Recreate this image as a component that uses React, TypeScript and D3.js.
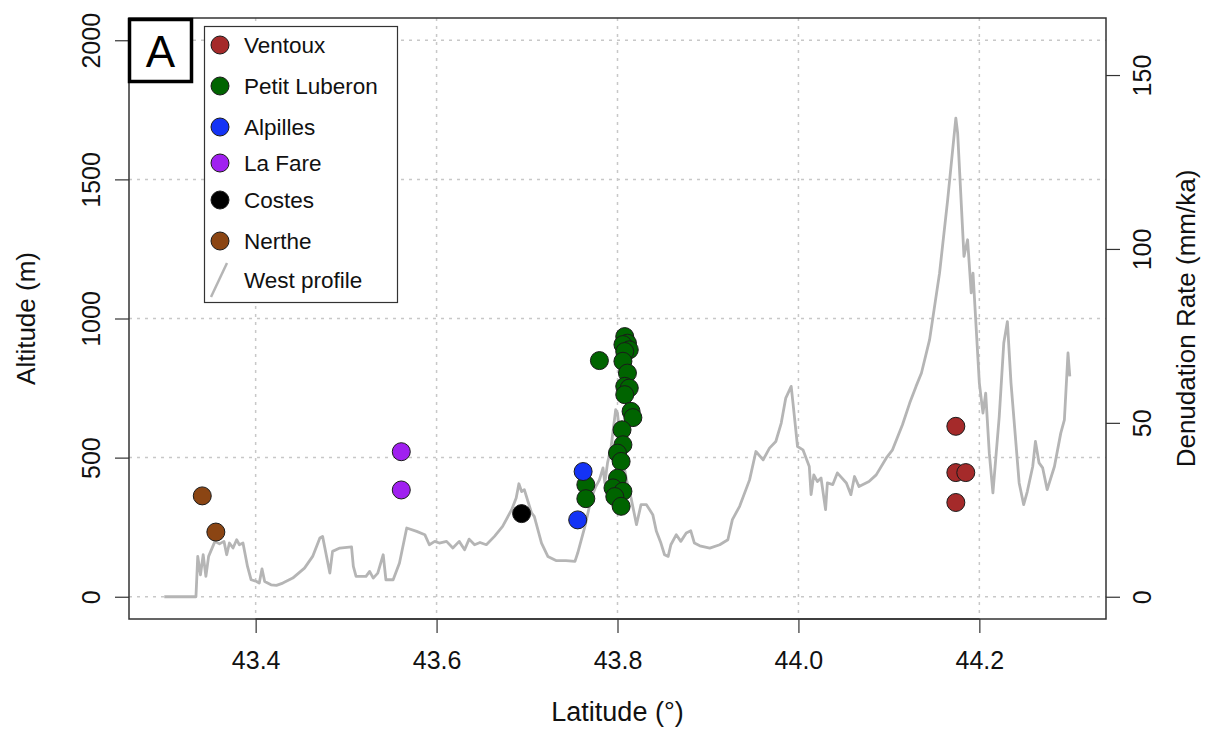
import React, { useRef, useEffect } from 'react';
import * as d3 from 'd3';

// West topographic profile (latitude in degrees, altitude in m)
const profileLat = [
  43.299, 43.334, 43.336, 43.339, 43.342, 43.345, 43.348, 43.355, 43.36, 43.365, 43.368, 43.371,
  43.375, 43.379, 43.382, 43.386, 43.391, 43.395, 43.401, 43.404, 43.407, 43.41, 43.417, 43.423,
  43.43, 43.441, 43.454, 43.463, 43.471, 43.474, 43.482, 43.485, 43.493, 43.506, 43.508, 43.511,
  43.522, 43.526, 43.53, 43.535, 43.541, 43.544, 43.552, 43.559, 43.567, 43.578, 43.587, 43.592,
  43.598, 43.603, 43.611, 43.618, 43.625, 43.631, 43.636, 43.642, 43.648, 43.655, 43.664, 43.673,
  43.683, 43.688, 43.691, 43.694, 43.697, 43.705, 43.708, 43.716, 43.723, 43.732, 43.743, 43.753,
  43.756, 43.764, 43.771, 43.776, 43.78, 43.784, 43.786, 43.789, 43.793, 43.798, 43.8, 43.804,
  43.81, 43.815, 43.821, 43.826, 43.832, 43.839, 43.843, 43.848, 43.852, 43.856, 43.859, 43.865,
  43.87, 43.876, 43.881, 43.885, 43.891, 43.902, 43.913, 43.922, 43.927, 43.935, 43.946, 43.953,
  43.961, 43.968, 43.975, 43.981, 43.986, 43.992, 43.994, 43.999, 44.005, 44.012, 44.014, 44.017,
  44.021, 44.025, 44.03, 44.032, 44.038, 44.043, 44.053, 44.058, 44.062, 44.067, 44.078, 44.086,
  44.097, 44.104, 44.115, 44.123, 44.13, 44.136, 44.145, 44.156, 44.165, 44.174, 44.176, 44.183,
  44.187, 44.191, 44.193, 44.2, 44.204, 44.207, 44.211, 44.215, 44.222, 44.227, 44.231, 44.235,
  44.244, 44.249, 44.253, 44.259, 44.262, 44.266, 44.27, 44.275, 44.283, 44.29, 44.294, 44.298,
  44.3,
];
const profileAlt = [
  0, 0, 145, 79, 151, 73, 145, 199, 190, 199, 151, 193,
  175, 205, 187, 193, 109, 61, 55, 49, 100, 55, 43, 41,
  49, 67, 103, 145, 211, 217, 85, 163, 175, 179, 109, 73,
  73, 91, 67, 85, 151, 61, 61, 121, 247, 235, 223, 187,
  199, 193, 199, 175, 199, 169, 207, 187, 195, 187, 217, 253,
  313, 355, 406, 378, 385, 301, 289, 193, 145, 130, 130, 127,
  157, 253, 355, 396, 420, 463, 409, 481, 540, 672, 660, 528,
  420, 355, 259, 331, 331, 295, 235, 193, 151, 145, 187, 223,
  199, 229, 237, 193, 183, 175, 187, 205, 277, 325, 420, 522,
  492, 534, 558, 624, 714, 756, 696, 540, 528, 468, 367, 438,
  414, 427, 313, 409, 403, 445, 409, 367, 432, 396, 414, 438,
  498, 528, 618, 696, 756, 804, 924, 1163, 1427, 1720, 1667, 1223,
  1283, 1092, 1163, 768, 660, 732, 516, 373, 648, 912, 989, 768,
  409, 331, 378, 468, 558, 481, 463, 385, 468, 588, 636, 876,
  792,
];

// Denudation rates (mm/ka) per site
const ventouxLat = [44.174, 44.174, 44.185, 44.174];
const ventouxRate = [49.0, 35.7, 35.7, 27.1];

const luberonLat = [
  43.808, 43.811, 43.806, 43.813, 43.808, 43.78, 43.806, 43.811, 43.808, 43.813, 43.808, 43.815,
  43.817, 43.805, 43.806, 43.8, 43.804, 43.765, 43.765, 43.8, 43.795, 43.806, 43.797, 43.804,
];
const luberonRate = [
  74.8, 72.9, 72.5, 71.0, 70.5, 67.9, 67.7, 64.3, 60.5, 60.0, 58.1, 53.3,
  51.5, 48.0, 43.7, 41.3, 38.9, 32.2, 28.2, 34.1, 31.3, 30.3, 28.8, 26.0,
];

const alpillesLat = [43.762, 43.756];
const alpillesRate = [36.0, 22.1];

const laFareLat = [43.561, 43.561];
const laFareRate = [41.7, 30.7];

const costesLat = [43.694];
const costesRate = [23.9];

const nertheLat = [43.341, 43.356];
const nertheRate = [29.0, 18.6];

const siteNames = ['Ventoux', 'Petit Luberon', 'Alpilles', 'La Fare', 'Costes', 'Nerthe'];
const siteColors = ['#a52a2a', '#006400', '#1433f5', '#a020f0', '#000000', '#8b4513'];
const siteLats = [ventouxLat, luberonLat, alpillesLat, laFareLat, costesLat, nertheLat];
const siteRates = [ventouxRate, luberonRate, alpillesRate, laFareRate, costesRate, nertheRate];

const latTicks = [43.4, 43.6, 43.8, 44.0, 44.2];
const altTicks = [0, 500, 1000, 1500, 2000];
const rateTicks = [0, 50, 100, 150];

const FONT = '"Liberation Sans", Arial, Helvetica, sans-serif';

const App = () => {
  const svgRef = useRef<SVGSVGElement | null>(null);

  useEffect(() => {
    const width = 1210;
    const height = 732;
    const left = 129;
    const right = 1106;
    const top = 18;
    const bottom = 619;

    const svg = d3.select(svgRef.current);
    svg.selectAll('*').remove();
    svg.attr('width', width).attr('height', height).style('font-family', FONT);

    const x = d3.scaleLinear().domain([43.26, 44.34]).range([left, right]);
    const yAlt = d3.scaleLinear().domain([-80, 2080]).range([bottom, top]);
    const yRate = d3.scaleLinear().domain([-6.4, 166.4]).range([bottom, top]);

    svg.append('rect').attr('width', width).attr('height', height).attr('fill', '#fff');

    // grid
    const grid = svg.append('g').attr('stroke', '#c8c8c8').attr('stroke-width', 1.5).attr('stroke-dasharray', '3,5');
    grid.selectAll('line.h')
      .data(altTicks)
      .join('line')
      .attr('x1', left)
      .attr('x2', right)
      .attr('y1', d => yAlt(d))
      .attr('y2', d => yAlt(d));
    grid.selectAll('line.v')
      .data(latTicks)
      .join('line')
      .attr('class', 'v')
      .attr('x1', d => x(d))
      .attr('x2', d => x(d))
      .attr('y1', top)
      .attr('y2', bottom);

    // profile
    const line = d3.line<number>()
      .x((_, i) => x(profileLat[i]))
      .y(d => yAlt(d));
    svg.append('path')
      .datum(profileAlt)
      .attr('d', line)
      .attr('fill', 'none')
      .attr('stroke', '#b5b5b5')
      .attr('stroke-width', 2.8)
      .attr('stroke-linejoin', 'round');

    // points
    siteNames.forEach((name, s) => {
      svg.append('g')
        .selectAll('circle')
        .data(siteRates[s])
        .join('circle')
        .attr('cx', (_, i) => x(siteLats[s][i]))
        .attr('cy', d => yRate(d))
        .attr('r', 9)
        .attr('fill', siteColors[s])
        .attr('stroke', '#1a1a1a')
        .attr('stroke-width', 1);
    });

    // frame
    svg.append('rect')
      .attr('x', left)
      .attr('y', top)
      .attr('width', right - left)
      .attr('height', bottom - top)
      .attr('fill', 'none')
      .attr('stroke', '#333')
      .attr('stroke-width', 1.5);

    // bottom axis
    const xAxis = svg.append('g').attr('transform', `translate(0,${bottom})`);
    xAxis.call(d3.axisBottom(x).tickValues(latTicks).tickSize(14).tickSizeOuter(0).tickPadding(18).tickFormat(d3.format('.1f')));
    xAxis.select('.domain').attr('stroke', '#333').attr('stroke-width', 1.5)
      .attr('d', `M${x(43.4)},0H${x(44.2)}`);
    xAxis.selectAll('.tick line').attr('stroke', '#333').attr('stroke-width', 1.2);
    xAxis.selectAll('text').attr('font-size', 25).attr('fill', '#111').attr('font-family', FONT);

    // left axis
    const yAxisL = svg.append('g').attr('transform', `translate(${left},0)`);
    yAxisL.call(d3.axisLeft(yAlt).tickValues(altTicks).tickSize(14).tickSizeOuter(0).tickFormat(d3.format('d')));
    yAxisL.select('.domain').remove();
    yAxisL.selectAll('.tick line').attr('stroke', '#333').attr('stroke-width', 1.2);
    yAxisL.selectAll('text').remove();
    yAxisL.selectAll('.tick')
      .append('text')
      .attr('transform', 'translate(-38,0) rotate(-90)')
      .attr('text-anchor', 'middle')
      .attr('dy', '0.35em')
      .attr('font-size', 25)
      .attr('fill', '#111')
      .attr('font-family', FONT)
      .text(d => String(d));

    // right axis
    const yAxisR = svg.append('g').attr('transform', `translate(${right},0)`);
    yAxisR.call(d3.axisRight(yRate).tickValues(rateTicks).tickSize(14).tickSizeOuter(0));
    yAxisR.select('.domain').remove();
    yAxisR.selectAll('.tick line').attr('stroke', '#333').attr('stroke-width', 1.2);
    yAxisR.selectAll('text').remove();
    yAxisR.selectAll('.tick')
      .append('text')
      .attr('transform', 'translate(36,0) rotate(-90)')
      .attr('text-anchor', 'middle')
      .attr('dy', '0.35em')
      .attr('font-size', 25)
      .attr('fill', '#111')
      .attr('font-family', FONT)
      .text(d => String(d));

    // axis titles
    svg.append('text')
      .attr('x', (left + right) / 2)
      .attr('y', 712)
      .attr('dy', '0.35em')
      .attr('text-anchor', 'middle')
      .attr('font-size', 27)
      .attr('fill', '#111')
      .text('Latitude (°)');
    svg.append('text')
      .attr('transform', `translate(26,${(top + bottom) / 2}) rotate(-90)`)
      .attr('dy', '0.35em')
      .attr('text-anchor', 'middle')
      .attr('font-size', 26)
      .attr('fill', '#111')
      .text('Altitude (m)');
    svg.append('text')
      .attr('transform', `translate(1186,${(top + bottom) / 2}) rotate(-90)`)
      .attr('dy', '0.35em')
      .attr('text-anchor', 'middle')
      .attr('font-size', 26)
      .attr('fill', '#111')
      .text('Denudation Rate (mm/ka)');

    // panel letter
    svg.append('rect')
      .attr('x', 129.5)
      .attr('y', 19.5)
      .attr('width', 62)
      .attr('height', 62)
      .attr('fill', '#fff')
      .attr('stroke', '#000')
      .attr('stroke-width', 3.5);
    svg.append('text')
      .attr('x', 160.5)
      .attr('y', 51)
      .attr('dy', '0.36em')
      .attr('text-anchor', 'middle')
      .attr('font-size', 44)
      .attr('fill', '#000')
      .text('A');

    // legend
    const legend = svg.append('g');
    legend.append('rect')
      .attr('x', 204.5)
      .attr('y', 26.5)
      .attr('width', 193)
      .attr('height', 276)
      .attr('fill', '#fff')
      .attr('stroke', '#333')
      .attr('stroke-width', 1.2);
    const legendY = [45, 86, 127, 163, 200, 241];
    siteNames.forEach((name, s) => {
      legend.append('circle')
        .attr('cx', 220)
        .attr('cy', legendY[s])
        .attr('r', 9)
        .attr('fill', siteColors[s])
        .attr('stroke', '#1a1a1a')
        .attr('stroke-width', 1);
      legend.append('text')
        .attr('x', 244)
        .attr('y', legendY[s])
        .attr('dy', '0.35em')
        .attr('font-size', 22.5)
        .attr('fill', '#111')
        .text(name);
    });
    legend.append('line')
      .attr('x1', 211)
      .attr('y1', 297)
      .attr('x2', 227)
      .attr('y2', 263)
      .attr('stroke', '#b5b5b5')
      .attr('stroke-width', 2.5);
    legend.append('text')
      .attr('x', 244)
      .attr('y', 280)
      .attr('dy', '0.35em')
      .attr('font-size', 22.5)
      .attr('fill', '#111')
      .text('West profile');
  }, []);

  return (
    <div style={{ position: 'absolute', left: 0, top: 0 }}>
      <svg ref={svgRef}></svg>
    </div>
  );
};

export default App;
